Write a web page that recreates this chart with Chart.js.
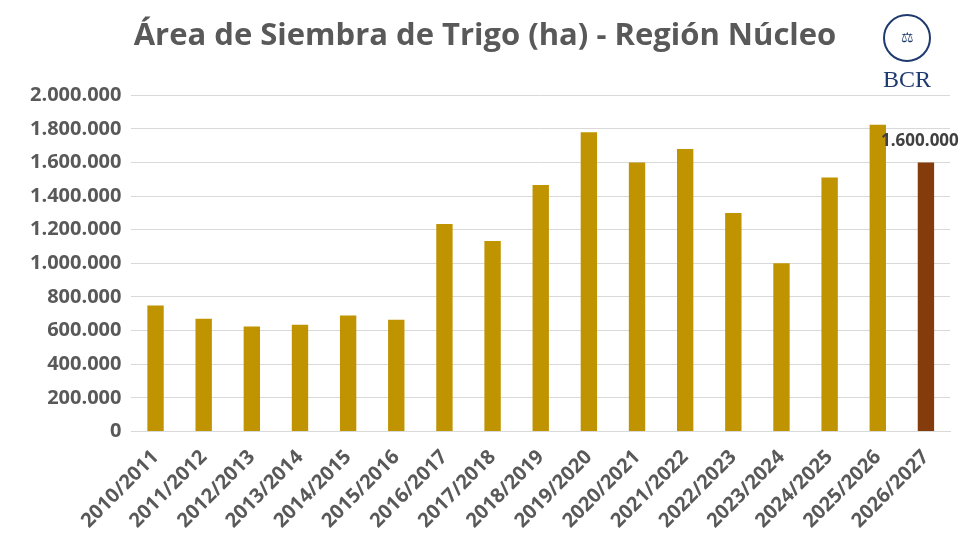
<!DOCTYPE html>
<html>
<head>
<meta charset="utf-8">
<script src="https://cdn.jsdelivr.net/npm/chart.js@4"></script>
<style>
  body { margin: 0; background: #fff; }
  #wrap { position: relative; width: 972px; height: 548px; }
  #logo { position: absolute; left: 872px; top: 14px; width: 70px; text-align: center;
          font-family: "Liberation Serif", serif; color: #1f3a6e; }
</style>
</head>
<body>
<div id="wrap">
  <canvas id="chart" width="972" height="548"></canvas>
  <div id="logo">
    <div style="width:44px;height:44px;border:2px solid #1f3a6e;border-radius:50%;margin:0 auto;font-size:14px;line-height:44px">⚖</div>
    <div style="font-size:24px;margin-top:4px">BCR</div>
  </div>
</div>
<script>
const campaigns = ["2010/2011","2011/2012","2012/2013","2013/2014","2014/2015","2015/2016","2016/2017","2017/2018","2018/2019","2019/2020","2020/2021","2021/2022","2022/2023","2023/2024","2024/2025","2025/2026","2026/2027"];
const hectares = [750000, 670000, 625000, 635000, 690000, 665000, 1234000, 1133000, 1466000, 1780000, 1600000, 1680000, 1300000, 1000000, 1510000, 1825000, 1600000];
const barColors = hectares.map((v, i) => i === hectares.length - 1 ? "#843C0C" : "#C09300");

const fmt = v => v.toLocaleString("de-DE");

// label above the last (estimated) bar
const lastLabel = {
  id: "lastLabel",
  afterDatasetsDraw(chart) {
    const meta = chart.getDatasetMeta(0);
    const bar = meta.data[meta.data.length - 1];
    const ctx = chart.ctx;
    ctx.save();
    ctx.font = "bold 17px 'Open Sans', sans-serif";
    ctx.fillStyle = "#404040";
    ctx.textAlign = "center";
    ctx.fillText(fmt(hectares[hectares.length - 1]), bar.x - 6, bar.y - 16);
    ctx.restore();
  }
};

new Chart(document.querySelector("#chart"), {
  type: "bar",
  data: {
    labels: campaigns,
    datasets: [{ data: hectares, backgroundColor: barColors, barPercentage: 0.34, categoryPercentage: 1 }]
  },
  options: {
    responsive: false,
    animation: false,
    layout: { padding: { left: 20, right: 22, top: 0, bottom: 9 } },
    plugins: {
      legend: { display: false },
      tooltip: { enabled: false },
      title: {
        display: true,
        text: "Área de Siembra de Trigo (ha) - Región Núcleo",
        color: "#595959",
        font: { family: "'Open Sans', sans-serif", size: 31, weight: "bold" },
        padding: { top: 18, bottom: 40 }
      }
    },
    scales: {
      y: {
        min: 0, max: 2000000,
        ticks: { stepSize: 200000, callback: v => fmt(v), color: "#595959", padding: 10,
                 font: { family: "'Open Sans', sans-serif", size: 20, weight: "bold" } },
        grid: { color: "#d9d9d9", drawTicks: false },
        border: { display: false }
      },
      x: {
        ticks: { maxRotation: 45, minRotation: 45, color: "#595959", padding: 6,
                 font: { family: "'Open Sans', sans-serif", size: 20, weight: "bold" } },
        grid: { display: false },
        border: { color: "#d9d9d9" }
      }
    }
  },
  plugins: [lastLabel]
});
</script>
</body>
</html>
